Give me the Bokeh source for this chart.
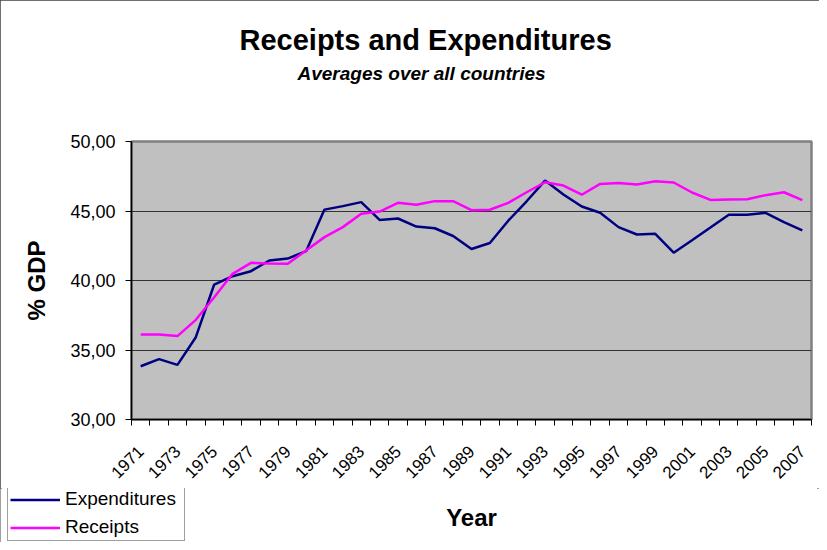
from math import pi
from bokeh.plotting import figure
from bokeh.layouts import column
from bokeh.models import FixedTicker, Range1d, Title, Legend, LegendItem, Label
from bokeh.embed import file_html
from bokeh.resources import INLINE

years = list(range(1971, 2008))
expenditures = [33.83, 34.34, 33.93, 35.92, 39.71, 40.31, 40.67, 41.44, 41.58, 42.11,
                45.10, 45.35, 45.64, 44.36, 44.46, 43.88, 43.76, 43.20, 42.27, 42.70,
                44.30, 45.70, 47.19, 46.19, 45.32, 44.87, 43.84, 43.31, 43.36, 42.00,
                42.90, 43.81, 44.73, 44.73, 44.87, 44.20, 43.60]
receipts = [36.12, 36.12, 36.00, 37.17, 38.80, 40.48, 41.27, 41.22, 41.20, 42.16,
            43.12, 43.84, 44.80, 44.96, 45.59, 45.45, 45.71, 45.71, 45.06, 45.09,
            45.59, 46.35, 47.07, 46.83, 46.17, 46.95, 47.02, 46.90, 47.14, 47.05,
            46.33, 45.80, 45.82, 45.84, 46.14, 46.35, 45.78]
y_ticks = [30, 35, 40, 45, 50]
y_tick_labels = ["30,00", "35,00", "40,00", "45,00", "50,00"]
x_label_years = years[::2]
x_tick_labels = [str(y) for y in x_label_years]

FONT = "Liberation Sans"

# layout constants (pixels)
W = 819
H_TOP = 488
H_BOT = 54
F_LEFT, F_RIGHT, F_TOP, F_BOTTOM = 131, 811, 141, 419

x_lo, x_hi = years[0] - 0.5, years[-1] + 0.5

p = figure(width=W, height=H_TOP, title=None,
           x_range=Range1d(x_lo, x_hi),
           y_range=Range1d(y_ticks[0], y_ticks[-1]),
           output_backend="svg", toolbar_location=None,
           min_border_left=F_LEFT, min_border_right=W - F_RIGHT,
           min_border_top=F_TOP, min_border_bottom=H_TOP - F_BOTTOM)
p.frame_align = False

p.background_fill_color = "#C0C0C0"
p.border_fill_color = "white"
p.outline_line_color = "#808080"
p.outline_line_width = 2.5

r1 = p.line(years, expenditures, line_color="#000080", line_width=2.5)
r2 = p.line(years, receipts, line_color="#FF00FF", line_width=2.5)

# titles (first added sits closest to the frame)
spacer = Title(text=" ", text_font=FONT, text_font_size="10px", standoff=44)
sub = Title(text="Averages over all countries", align="left", offset=166,
            text_font=FONT, text_font_style="bold italic", text_font_size="19px",
            text_color="black", standoff=2)
main = Title(text="Receipts and Expenditures", align="left", offset=108,
             text_font=FONT, text_font_style="bold", text_font_size="29px",
             text_color="black", standoff=8)
p.add_layout(spacer, "above")
p.add_layout(sub, "above")
p.add_layout(main, "above")

# y axis
p.yaxis.ticker = FixedTicker(ticks=y_ticks)
p.yaxis.major_label_overrides = dict(zip(y_ticks, y_tick_labels))
p.yaxis.major_label_text_font = FONT
p.yaxis.major_label_text_font_size = "18px"
p.yaxis.major_label_text_color = "black"
p.yaxis.major_tick_out = 6
p.yaxis.major_tick_in = 0
p.yaxis.minor_tick_line_color = None
p.yaxis.major_tick_line_color = "black"
p.yaxis.axis_line_color = "black"
p.yaxis.axis_line_width = 1.5
p.yaxis.major_label_standoff = 10
p.yaxis.axis_label = "% GDP"
p.yaxis.axis_label_text_font = FONT
p.yaxis.axis_label_text_font_style = "bold"
p.yaxis.axis_label_text_font_size = "24px"
p.yaxis.axis_label_text_color = "black"
p.yaxis.axis_label_standoff = 17

# x axis
boundaries = [y - 0.5 for y in years] + [years[-1] + 0.5]
p.xaxis.ticker = FixedTicker(ticks=x_label_years, minor_ticks=boundaries)
p.xaxis.major_label_overrides = dict(zip(x_label_years, x_tick_labels))
p.xaxis.major_label_orientation = pi / 4
p.xaxis.major_label_text_font = FONT
p.xaxis.major_label_text_font_size = "17px"
p.xaxis.major_label_text_color = "black"
p.xaxis.major_tick_line_color = None
p.xaxis.major_tick_out = 0
p.xaxis.major_tick_in = 0
p.xaxis.minor_tick_line_color = "black"
p.xaxis.minor_tick_out = 6
p.xaxis.minor_tick_in = 0
p.xaxis.axis_line_color = "black"
p.xaxis.axis_line_width = 1.5
p.xaxis.major_label_standoff = 23

# grid
p.xgrid.visible = False
p.ygrid.ticker = FixedTicker(ticks=y_ticks)
p.ygrid.grid_line_color = "#333333"
p.ygrid.grid_line_width = 1

# bottom strip: legend + x axis title
px_per_unit = (F_RIGHT - F_LEFT) / (x_hi - x_lo)
q = figure(width=W, height=H_BOT, title=None,
           x_range=Range1d(x_lo - F_LEFT / px_per_unit, x_hi + (W - F_RIGHT) / px_per_unit),
           y_range=Range1d(0, 1),
           x_axis_location=None, y_axis_location=None,
           output_backend="svg", toolbar_location=None,
           min_border_left=0, min_border_right=0, min_border_top=0, min_border_bottom=0)
q.frame_align = False
q.grid.visible = False
q.outline_line_color = None
q.background_fill_color = "white"
q.border_fill_color = "white"

# legend proxies: same series, outside this strip's y range so not visible here
q1 = q.line(years, expenditures, line_color="#000080", line_width=2.5)
q2 = q.line(years, receipts, line_color="#FF00FF", line_width=2.5)

legend = Legend(items=[LegendItem(label="Expenditures", renderers=[q1]),
                       LegendItem(label="Receipts", renderers=[q2])],
                location=(7, 1))
legend.border_line_color = "#404040"
legend.border_line_width = 1
legend.background_fill_color = "white"
legend.background_fill_alpha = 1
legend.label_text_font = FONT
legend.label_text_font_size = "19px"
legend.label_text_color = "black"
legend.glyph_width = 50
legend.glyph_height = 21
legend.label_height = 21
legend.label_width = 117
legend.spacing = 6
legend.padding = 2
legend.margin = 0
legend.label_standoff = 5
q.add_layout(legend, "center")

year_label = Label(x=(years[0] + years[-1]) / 2, y=25, y_units="screen", text="Year",
                   text_align="center", text_baseline="middle",
                   text_font=FONT, text_font_style="bold", text_font_size="24px",
                   text_color="black")
q.add_layout(year_label)

layout = column(p, q, spacing=0)
layout.styles = {"outline": "2px solid #404040", "outline-offset": "-2px"}

open("out.html", "w").write(file_html(layout, INLINE))
